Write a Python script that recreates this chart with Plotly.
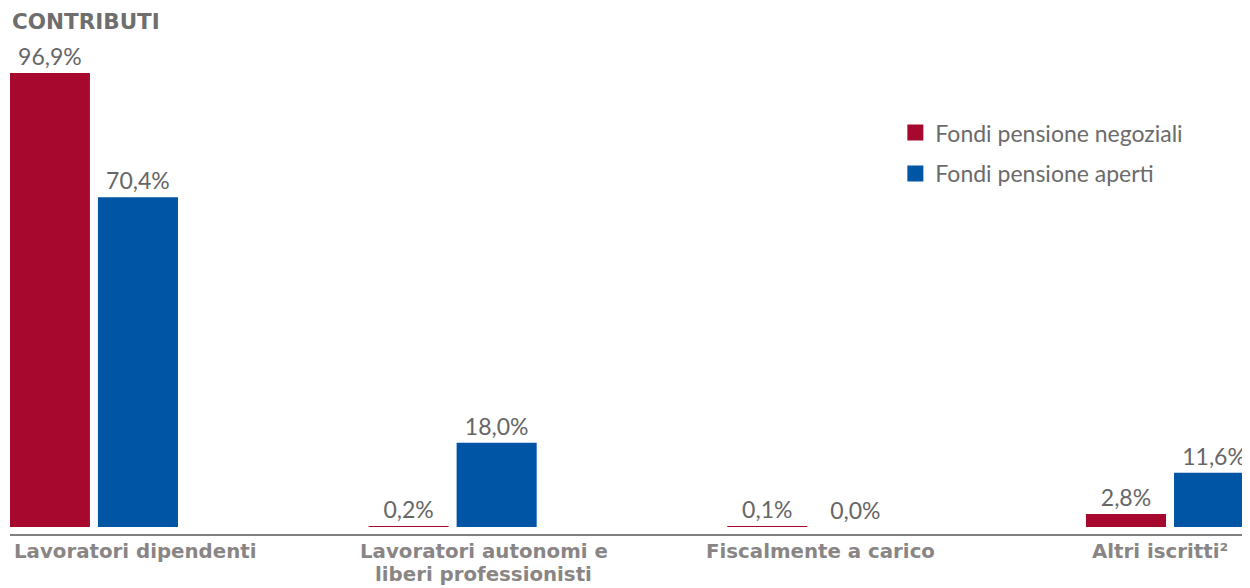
import plotly.graph_objects as go

# Data
categories = ["Lavoratori dipendenti", "Lavoratori autonomi e<br>liberi professionisti",
              "Fiscalmente a carico", "Altri iscritti²"]
negoziali = [96.9, 0.2, 0.1, 2.8]
aperti = [70.4, 18.0, 0.0, 11.6]
series_names = ["Fondi pensione negoziali", "Fondi pensione aperti"]

RED = "#A6092D"
BLUE = "#0055A4"
FONT = "Lato"
BOLD_FONT = "DejaVu Sans"

x_idx = list(range(len(categories)))

fig = go.Figure()
for name, vals, col in [(series_names[0], negoziali, RED), (series_names[1], aperti, BLUE)]:
    fig.add_trace(go.Bar(
        x=x_idx, y=vals, name=name, marker=dict(color=col, line=dict(width=0)),
        texttemplate="%{y:.1f}%", textposition="outside",
        textfont=dict(size=23, color="#666666", family=FONT),
        cliponaxis=False, showlegend=False, hoverinfo="skip",
    ))
    # legend entry with a bigger square
    fig.add_trace(go.Scatter(
        x=[None], y=[None], mode="markers", name=name, legendgroup=name,
        marker=dict(symbol="square", size=22, color=col),
    ))

# category labels under the axis (one annotation per line, tighter line spacing)
label_shift = [42, 31, 9, -10]
for i, lab in enumerate(categories):
    for k, line in enumerate(lab.split("<br>")):
        fig.add_annotation(
            x=i, xref="x", y=0, yref="paper", yanchor="top", yshift=-4 - 23 * k,
            xshift=label_shift[i], text="<b>" + line + "</b>", showarrow=False,
            font=dict(size=19.8, color="#8a8585", family=BOLD_FONT), align="center",
            height=22, valign="middle",
        )

fig.add_annotation(
    x=0, xref="paper", y=1, yref="paper", xanchor="left", yanchor="top", yshift=1,
    text="<b>CONTRIBUTI</b>", showarrow=False,
    font=dict(size=21.5, color="#6e6e6e", family=BOLD_FONT),
)

# page has an 8px body margin, so the figure is 8px smaller than the window
fig.update_layout(
    width=1242, height=580,
    margin=dict(l=2, r=0, t=0, b=54),
    paper_bgcolor="white", plot_bgcolor="white",
    barmode="group", bargap=0.509, bargroupgap=0.091,
    separators=",.",
    font=dict(family=FONT, color="#6b6b6b"),
    xaxis=dict(range=[-0.234, 3.223], showticklabels=False, showgrid=False, zeroline=False,
               showline=True, linecolor="#808080", linewidth=2, fixedrange=True),
    yaxis=dict(range=[-1.494, 110.78], visible=False, fixedrange=True),
    legend=dict(x=0.714, y=0.804, xanchor="left", yanchor="top",
                font=dict(size=23, color="#6b6b6b", family=FONT),
                bgcolor="rgba(0,0,0,0)", itemsizing="trace", tracegroupgap=8),
    showlegend=True,
)

fig.write_html("out.html")
